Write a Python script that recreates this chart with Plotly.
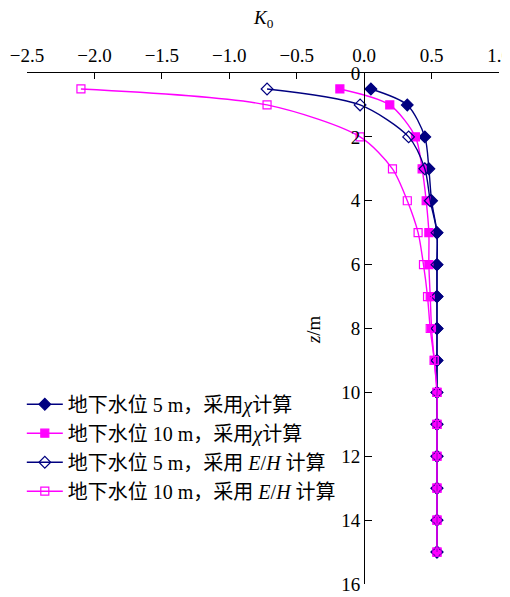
import plotly.graph_objects as go

depth = [0.5, 1, 2, 3, 4, 5, 6, 7, 8, 9, 10, 11, 12, 13, 14, 15]
k_chi_5m = [0.05, 0.32, 0.45, 0.48, 0.50, 0.54, 0.54, 0.54, 0.54, 0.54, 0.54, 0.54, 0.54, 0.54, 0.54, 0.54]
k_chi_10m = [-0.18, 0.19, 0.38, 0.43, 0.46, 0.48, 0.48, 0.49, 0.50, 0.52, 0.54, 0.54, 0.54, 0.54, 0.54, 0.54]
k_eh_5m = [-0.72, -0.03, 0.33, 0.45, 0.49, 0.54, 0.54, 0.54, 0.54, 0.54, 0.54, 0.54, 0.54, 0.54, 0.54, 0.54]
k_eh_10m = [-2.10, -0.72, -0.03, 0.21, 0.32, 0.40, 0.44, 0.47, 0.49, 0.52, 0.54, 0.54, 0.54, 0.54, 0.54, 0.54]

names = [
    "地下水位 5 m，采用<i>χ</i>计算",
    "地下水位 10 m，采用<i>χ</i>计算",
    "地下水位 5 m，采用 <i>E</i>/<i>H</i> 计算",
    "地下水位 10 m，采用 <i>E</i>/<i>H</i> 计算",
]
x_tick_vals = [-2.5, -2.0, -1.5, -1.0, -0.5, 0.0, 0.5, 1.0]
y_tick_vals = [0, 2, 4, 6, 8, 10, 12, 14, 16]

NAVY = "#000080"
MAG = "#FF00FF"
FONT = "Liberation Serif"
LEG_FONT = "Liberation Serif, Noto Sans CJK SC"

series = [
    (k_chi_5m, names[0], NAVY, "diamond", 9),
    (k_chi_10m, names[1], MAG, "square", 8),
    (k_eh_5m, names[2], NAVY, "diamond-open", 9),
    (k_eh_10m, names[3], MAG, "square-open", 8),
]

fig = go.Figure()
for i, (xs, nm, col, sym, sz) in enumerate(series):
    fig.add_trace(go.Scatter(
        x=xs, y=depth, name=nm, mode="lines+markers",
        line=dict(color=col, width=1.4, shape="spline", smoothing=0.8),
        marker=dict(symbol=sym, size=sz, color=col, line=dict(color=col, width=1.2)),
        legendgroup=f"g{i}",
    ))

fig.update_layout(
    width=510, height=589,
    margin=dict(l=19, r=19, t=65, b=13, autoexpand=False),
    paper_bgcolor="white", plot_bgcolor="white",
    font=dict(family=FONT, size=19, color="black"),
    showlegend=True,
    legend=dict(x=-0.011, y=0.39, xanchor="left", yanchor="top",
                bgcolor="rgba(0,0,0,0)", font=dict(size=20, family=LEG_FONT),
                tracegroupgap=0, itemwidth=36),
    xaxis=dict(range=[-2.5, 1.0], side="top", tickvals=x_tick_vals, tickformat=".1f",
               showgrid=False, zeroline=False, showline=True, linecolor="black", linewidth=1.2,
               ticks="inside", ticklen=6, tickcolor="black", anchor="y", automargin=False,
               ticklabelstandoff=2, tickfont=dict(size=19, family=FONT)),
    yaxis=dict(range=[16, 0], tickvals=y_tick_vals, showgrid=False, zeroline=False,
               showline=True, linecolor="black", linewidth=1.2, ticks="inside", ticklen=7,
               tickcolor="black", anchor="free", position=2.5 / 3.5, automargin=False,
               tickfont=dict(size=19, family=FONT)),
    annotations=[
        dict(text="<i>K</i><sub>0</sub>", x=0.5, y=1.106, xref="paper", yref="paper",
             yanchor="middle", showarrow=False, font=dict(size=19, family=FONT)),
        dict(text="<i>z</i>/m", x=0.606, y=0.497, xref="paper", yref="paper",
             showarrow=False, textangle=-90, font=dict(size=19, family=FONT)),
    ],
)

fig.write_html("out.html")
